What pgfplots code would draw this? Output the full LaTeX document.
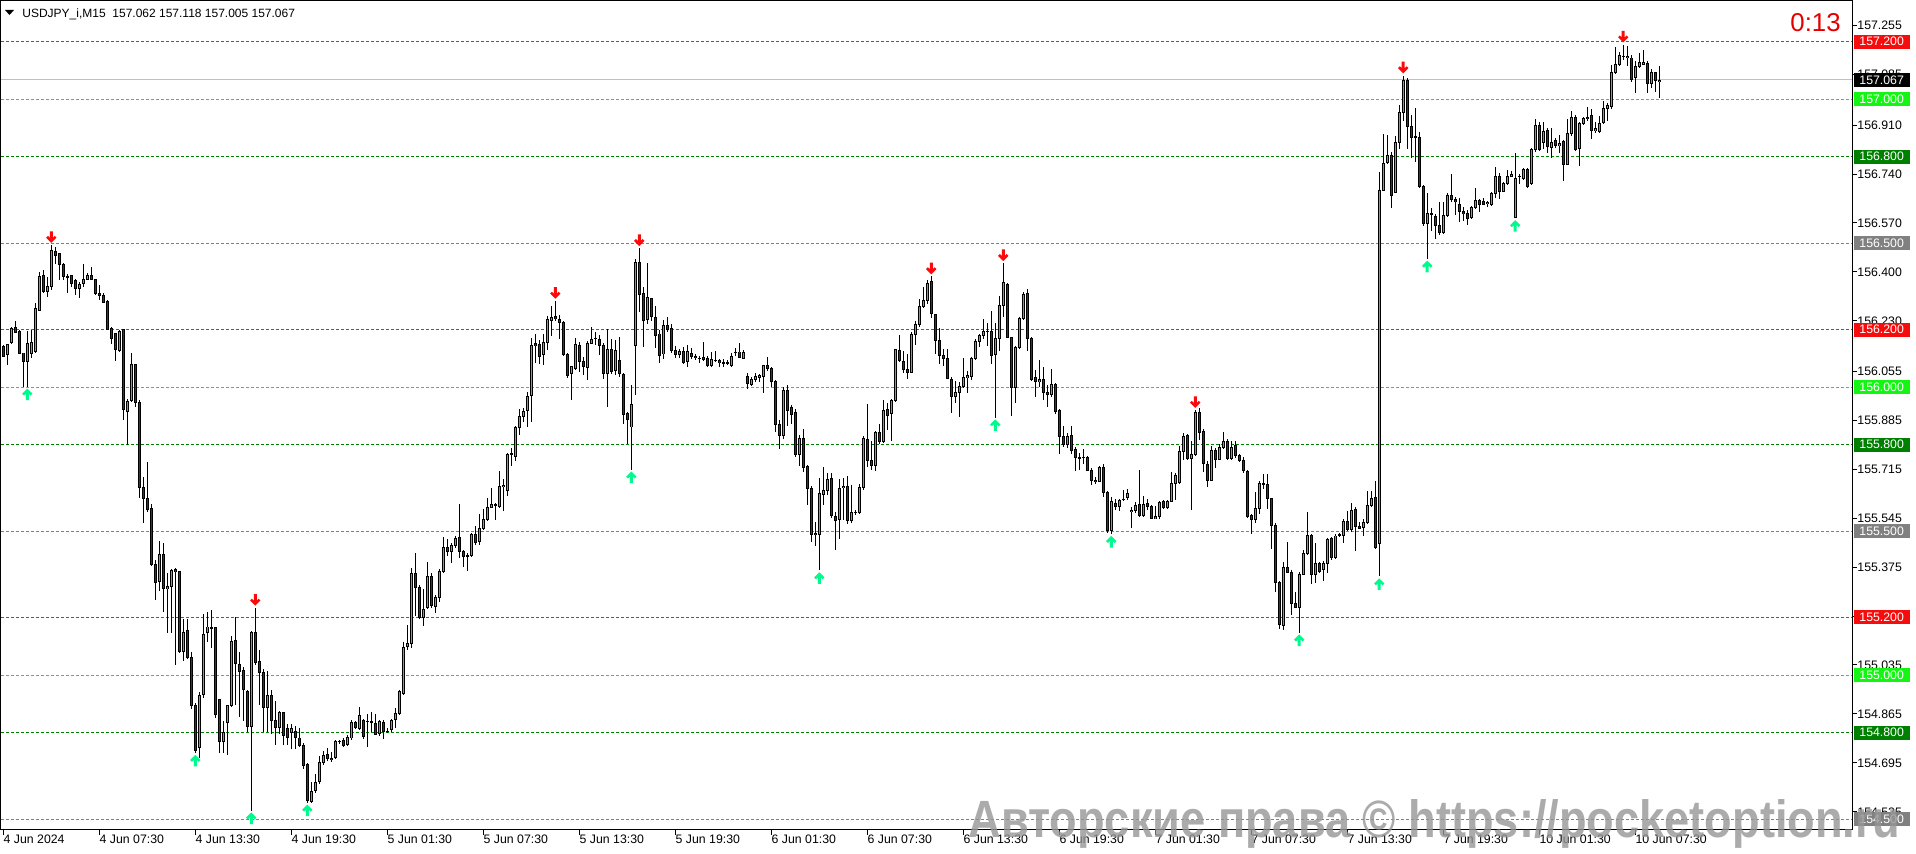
\documentclass[border=0pt]{standalone}
\usepackage{pgfplots}
\pgfplotsset{compat=1.18}
\usepackage{pgfplotstable}
\usepackage{fontspec}
\usepackage{graphicx}
\setmainfont{Liberation Sans}
\newfontfamily\wmfont{Liberation Sans}
\definecolor{bullc}{RGB}{96,180,112}
\definecolor{bearc}{RGB}{128,24,24}
\definecolor{lnred}{RGB}{200,45,45}
\definecolor{bxred}{RGB}{245,12,12}
\definecolor{lnlime}{RGB}{50,210,50}
\definecolor{bxlime}{RGB}{20,245,20}
\definecolor{lndkg}{RGB}{0,128,0}
\definecolor{lngray}{RGB}{128,128,128}
\definecolor{arrred}{RGB}{250,10,10}
\definecolor{arrgrn}{RGB}{0,250,140}
\definecolor{curln}{RGB}{192,192,192}
\definecolor{wmfill}{RGB}{150,150,150}
\newcommand\lbl{\fontsize{6.15}{7}\selectfont}

\pgfdeclareplotmark{void}{}
\pgfdeclareplotmark{dnarrow}{%
 \pgfpathmoveto{\pgfqpoint{0pt}{1pt}}%
 \pgfpathlineto{\pgfqpoint{2.6pt}{3.6pt}}%
 \pgfpathlineto{\pgfqpoint{1.7pt}{4.5pt}}%
 \pgfpathlineto{\pgfqpoint{0.75pt}{3.55pt}}%
 \pgfpathlineto{\pgfqpoint{0.75pt}{6.8pt}}%
 \pgfpathlineto{\pgfqpoint{-0.75pt}{6.8pt}}%
 \pgfpathlineto{\pgfqpoint{-0.75pt}{3.55pt}}%
 \pgfpathlineto{\pgfqpoint{-1.7pt}{4.5pt}}%
 \pgfpathlineto{\pgfqpoint{-2.6pt}{3.6pt}}%
 \pgfpathclose
 \pgfusepathqfill}
\pgfdeclareplotmark{uparrow}{%
 \pgfpathmoveto{\pgfqpoint{0pt}{-1pt}}%
 \pgfpathlineto{\pgfqpoint{2.6pt}{-3.6pt}}%
 \pgfpathlineto{\pgfqpoint{1.7pt}{-4.5pt}}%
 \pgfpathlineto{\pgfqpoint{0.75pt}{-3.55pt}}%
 \pgfpathlineto{\pgfqpoint{0.75pt}{-6.8pt}}%
 \pgfpathlineto{\pgfqpoint{-0.75pt}{-6.8pt}}%
 \pgfpathlineto{\pgfqpoint{-0.75pt}{-3.55pt}}%
 \pgfpathlineto{\pgfqpoint{-1.7pt}{-4.5pt}}%
 \pgfpathlineto{\pgfqpoint{-2.6pt}{-3.6pt}}%
 \pgfpathclose
 \pgfusepathqfill}

\pgfplotstableread{
i o h l c
0 156.141 156.147 156.104 156.106
1 156.112 156.152 156.077 156.147
2 156.156 156.210 156.152 156.204
3 156.208 156.231 156.187 156.191
4 156.195 156.199 156.115 156.118
5 156.118 156.118 156.002 156.089
6 156.089 156.195 156.002 156.152
7 156.118 156.199 156.100 156.156
8 156.123 156.291 156.118 156.274
9 156.268 156.401 156.266 156.386
10 156.390 156.407 156.326 156.332
11 156.332 156.384 156.314 156.351
12 156.351 156.494 156.340 156.474
13 156.474 156.488 156.430 156.459
14 156.463 156.467 156.372 156.428
15 156.428 156.433 156.372 156.386
16 156.384 156.395 156.326 156.386
17 156.387 156.390 156.349 156.361
18 156.372 156.378 156.320 156.343
19 156.343 156.367 156.309 156.358
20 156.361 156.428 156.349 156.375
21 156.375 156.396 156.372 156.390
22 156.390 156.419 156.372 156.375
23 156.375 156.378 156.320 156.324
24 156.326 156.355 156.303 156.320
25 156.320 156.326 156.291 156.294
26 156.297 156.301 156.199 156.201
27 156.204 156.210 156.152 156.170
28 156.185 156.187 156.091 156.129
29 156.129 156.199 156.123 156.195
30 156.199 156.204 155.886 155.923
31 155.918 155.958 155.801 155.952
32 155.952 156.120 155.948 156.078
33 156.078 156.080 155.932 155.948
34 155.948 155.958 155.616 155.653
35 155.653 155.690 155.531 155.613
36 155.613 155.739 155.566 155.576
37 155.580 155.593 155.380 155.387
38 155.385 155.400 155.261 155.323
39 155.327 155.467 155.294 155.420
40 155.420 155.460 155.221 155.301
41 155.301 155.354 155.148 155.308
42 155.308 155.371 155.148 155.363
43 155.366 155.374 155.035 155.358
44 155.358 155.363 155.075 155.082
45 155.082 155.194 155.051 155.148
46 155.155 155.194 155.055 155.062
47 155.062 155.082 154.883 154.896
48 154.896 154.903 154.730 154.739
49 154.750 154.943 154.712 154.929
50 154.933 155.214 154.922 155.141
51 155.148 155.221 155.115 155.168
52 155.165 155.228 155.095 155.165
53 155.168 155.168 154.853 154.863
54 154.916 154.919 154.730 154.770
55 154.770 154.843 154.730 154.803
56 154.836 154.896 154.723 154.893
57 154.896 155.137 154.889 155.119
58 155.122 155.201 154.896 155.042
59 155.039 155.082 154.856 155.015
60 155.015 155.029 154.843 154.949
61 154.943 154.949 154.803 154.823
62 154.823 155.155 154.530 155.148
63 155.148 155.234 155.035 155.045
64 155.049 155.088 154.896 155.009
65 155.009 155.022 154.803 154.889
66 154.889 155.015 154.803 154.929
67 154.929 154.949 154.796 154.843
68 154.843 154.912 154.757 154.819
69 154.819 154.876 154.796 154.872
70 154.869 154.872 154.757 154.790
71 154.816 154.829 154.757 154.783
72 154.800 154.832 154.743 154.816
73 154.803 154.823 154.743 154.783
74 154.783 154.816 154.750 154.756
75 154.756 154.763 154.673 154.686
76 154.690 154.694 154.557 154.564
77 154.564 154.630 154.557 154.597
78 154.601 154.657 154.590 154.630
79 154.630 154.720 154.624 154.697
80 154.697 154.736 154.690 154.723
81 154.723 154.747 154.703 154.710
82 154.712 154.734 154.697 154.707
83 154.716 154.776 154.710 154.770
84 154.770 154.776 154.763 154.770
85 154.772 154.783 154.752 154.756
86 154.759 154.792 154.756 154.783
87 154.783 154.846 154.776 154.836
88 154.836 154.840 154.813 154.819
89 154.816 154.889 154.810 154.859
90 154.843 154.849 154.779 154.787
91 154.840 154.867 154.752 154.840
92 154.839 154.872 154.803 154.836
93 154.832 154.866 154.792 154.796
94 154.796 154.843 154.790 154.839
95 154.836 154.845 154.779 154.803
96 154.806 154.816 154.800 154.806
97 154.810 154.849 154.803 154.843
98 154.846 154.886 154.816 154.867
99 154.867 154.949 154.863 154.943
100 154.938 155.115 154.933 155.098
101 155.098 155.174 155.088 155.108
102 155.111 155.374 155.095 155.354
103 155.354 155.427 155.208 155.305
104 155.305 155.314 155.194 155.201
105 155.201 155.300 155.172 155.227
106 155.235 155.394 155.231 155.344
107 155.344 155.357 155.235 155.240
108 155.240 155.278 155.214 155.271
109 155.271 155.370 155.254 155.360
110 155.360 155.479 155.357 155.443
111 155.443 155.474 155.413 155.430
112 155.430 155.460 155.390 155.452
113 155.452 155.483 155.443 155.476
114 155.479 155.593 155.407 155.430
115 155.430 155.436 155.377 155.413
116 155.417 155.426 155.364 155.414
117 155.417 155.496 155.410 155.489
118 155.489 155.516 155.452 155.463
119 155.463 155.558 155.450 155.509
120 155.509 155.576 155.505 155.540
121 155.540 155.615 155.536 155.582
122 155.582 155.651 155.580 155.593
123 155.593 155.598 155.540 155.590
124 155.585 155.708 155.580 155.655
125 155.655 155.681 155.572 155.659
126 155.642 155.771 155.622 155.768
127 155.768 155.787 155.725 155.768
128 155.761 155.867 155.744 155.860
129 155.860 155.924 155.834 155.897
130 155.900 155.929 155.880 155.916
131 155.920 155.986 155.863 155.969
132 155.973 156.172 155.880 156.145
133 156.152 156.185 156.085 156.145
134 156.149 156.165 156.079 156.109
135 156.115 156.185 156.079 156.154
136 156.154 156.247 156.128 156.234
137 156.234 156.280 156.178 156.244
138 156.244 156.300 156.231 156.238
139 156.234 156.251 156.168 156.225
140 156.225 156.231 156.109 156.115
141 156.115 156.119 156.033 156.043
142 156.046 156.075 155.956 156.070
143 156.066 156.172 156.062 156.148
144 156.145 156.158 156.052 156.092
145 156.092 156.105 156.043 156.072
146 156.070 156.162 156.026 156.154
147 156.154 156.211 156.152 156.168
148 156.172 156.191 156.145 156.172
149 156.168 156.181 156.112 156.145
150 156.145 156.154 156.030 156.048
151 156.048 156.202 155.933 156.132
152 156.132 156.168 156.048 156.056
153 156.059 156.165 156.043 156.128
154 156.092 156.176 156.035 156.048
155 156.046 156.048 155.871 155.907
156 155.907 155.913 155.805 155.889
157 155.863 156.009 155.714 155.940
158 156.145 156.446 155.973 156.433
159 156.433 156.483 156.264 156.321
160 156.324 156.348 156.141 156.231
161 156.238 156.433 156.218 156.313
162 156.308 156.311 156.231 156.244
163 156.244 156.284 156.136 156.181
164 156.185 156.198 156.083 156.112
165 156.115 156.234 156.099 156.215
166 156.215 156.244 156.194 156.202
167 156.202 156.218 156.119 156.128
168 156.128 156.145 156.102 156.115
169 156.115 156.132 156.101 156.125
170 156.125 156.141 156.079 156.088
171 156.088 156.149 156.070 156.123
172 156.119 156.136 156.099 156.109
173 156.109 156.115 156.096 156.104
174 156.101 156.109 156.083 156.101
175 156.104 156.158 156.092 156.099
176 156.101 156.109 156.070 156.075
177 156.075 156.123 156.070 156.096
178 156.095 156.128 156.088 156.095
179 156.092 156.099 156.070 156.085
180 156.085 156.099 156.070 156.085
181 156.085 156.096 156.079 156.085
182 156.075 156.119 156.072 156.109
183 156.123 156.136 156.109 156.123
184 156.123 156.154 156.101 156.105
185 156.101 156.128 156.099 156.119
186 156.038 156.048 155.993 156.012
187 156.009 156.035 156.006 156.026
188 156.026 156.048 156.019 156.039
189 156.035 156.046 156.019 156.042
190 156.039 156.079 155.980 156.075
191 156.075 156.105 156.059 156.066
192 156.066 156.072 156.003 156.019
193 156.019 156.026 155.844 155.871
194 155.871 155.887 155.787 155.834
195 155.834 155.999 155.821 155.990
196 155.990 156.009 155.867 155.920
197 155.929 155.937 155.874 155.907
198 155.913 155.924 155.757 155.768
199 155.768 155.834 155.728 155.823
200 155.823 155.854 155.704 155.721
201 155.725 155.731 155.593 155.648
202 155.648 155.655 155.463 155.489
203 155.492 155.532 155.447 155.487
204 155.489 155.685 155.364 155.629
205 155.629 155.721 155.589 155.642
206 155.642 155.701 155.625 155.681
207 155.681 155.701 155.545 155.553
208 155.553 155.566 155.436 155.540
209 155.540 155.681 155.474 155.648
210 155.651 155.685 155.540 155.655
211 155.655 155.691 155.527 155.536
212 155.536 155.663 155.530 155.565
213 155.565 155.576 155.559 155.565
214 155.565 155.663 155.559 155.652
215 155.652 155.832 155.643 155.820
216 155.820 155.944 155.722 155.745
217 155.745 155.814 155.712 155.727
218 155.727 155.849 155.710 155.843
219 155.843 155.872 155.803 155.812
220 155.812 155.956 155.808 155.921
221 155.924 155.947 155.851 155.904
222 155.907 155.959 155.812 155.953
223 155.953 156.133 155.951 156.129
224 156.129 156.179 156.086 156.092
225 156.092 156.127 156.048 156.063
226 156.063 156.115 156.028 156.052
227 156.052 156.191 156.048 156.185
228 156.185 156.231 156.148 156.217
229 156.217 156.307 156.210 156.280
230 156.280 156.347 156.275 156.303
231 156.303 156.372 156.289 156.361
232 156.365 156.385 156.241 156.254
233 156.252 156.254 156.115 156.162
234 156.162 156.206 156.083 156.110
235 156.110 156.133 156.075 156.101
236 156.101 156.133 156.029 156.032
237 156.028 156.034 155.909 155.970
238 155.970 156.023 155.947 155.982
239 155.982 156.017 155.895 156.005
240 156.005 156.104 155.999 156.034
241 156.034 156.057 155.982 156.040
242 156.036 156.106 156.025 156.101
243 156.101 156.167 156.094 156.159
244 156.159 156.187 156.141 156.179
245 156.179 156.237 156.167 156.194
246 156.194 156.222 156.144 156.194
247 156.194 156.264 156.081 156.110
248 156.115 156.222 155.895 156.171
249 156.171 156.315 156.127 156.283
250 156.283 156.431 156.243 156.364
251 156.356 156.361 156.171 156.173
252 156.173 156.176 155.901 155.999
253 155.999 156.144 155.944 156.139
254 156.139 156.245 156.133 156.241
255 156.241 156.333 156.234 156.321
256 156.324 156.341 156.125 156.171
257 156.171 156.176 156.023 156.028
258 156.032 156.060 155.965 156.020
259 156.020 156.092 155.999 156.028
260 156.028 156.069 155.955 155.982
261 155.982 156.009 155.932 155.976
262 155.976 156.063 155.965 156.009
263 156.009 156.017 155.909 155.916
264 155.919 155.924 155.768 155.828
265 155.828 155.866 155.793 155.802
266 155.802 155.843 155.789 155.831
267 155.831 155.866 155.770 155.782
268 155.782 155.791 155.710 155.754
269 155.756 155.773 155.712 155.754
270 155.756 155.785 155.735 155.756
271 155.756 155.762 155.708 155.710
272 155.710 155.719 155.661 155.677
273 155.677 155.687 155.663 155.673
274 155.673 155.727 155.669 155.721
275 155.721 155.735 155.619 155.634
276 155.634 155.640 155.495 155.503
277 155.503 155.619 155.490 155.605
278 155.596 155.611 155.573 155.585
279 155.585 155.611 155.571 155.606
280 155.611 155.643 155.606 155.611
281 155.615 155.646 155.611 155.631
282 155.568 155.585 155.510 155.573
283 155.571 155.600 155.565 155.588
284 155.592 155.712 155.550 155.554
285 155.554 155.623 155.550 155.594
286 155.594 155.611 155.573 155.585
287 155.585 155.592 155.542 155.545
288 155.545 155.588 155.542 155.550
289 155.550 155.606 155.545 155.600
290 155.603 155.608 155.577 155.582
291 155.582 155.608 155.577 155.603
292 155.603 155.704 155.600 155.666
293 155.666 155.704 155.608 155.693
294 155.669 155.797 155.663 155.777
295 155.779 155.843 155.750 155.831
296 155.831 155.839 155.747 155.754
297 155.754 155.814 155.573 155.768
298 155.768 155.921 155.762 155.913
299 155.913 155.928 155.816 155.843
300 155.846 155.855 155.704 155.735
301 155.733 155.744 155.654 155.677
302 155.677 155.797 155.675 155.782
303 155.782 155.791 155.719 155.750
304 155.750 155.805 155.747 155.791
305 155.791 155.846 155.785 155.812
306 155.812 155.820 155.747 155.754
307 155.754 155.816 155.747 155.793
308 155.797 155.814 155.754 155.762
309 155.762 155.768 155.742 155.747
310 155.747 155.758 155.704 155.710
311 155.707 155.712 155.548 155.553
312 155.553 155.561 155.490 155.542
313 155.542 155.638 155.530 155.580
314 155.580 155.673 155.561 155.666
315 155.663 155.699 155.646 155.666
316 155.662 155.699 155.579 155.613
317 155.613 155.617 155.440 155.520
318 155.520 155.530 155.288 155.321
319 155.321 155.328 155.160 155.175
320 155.175 155.394 155.158 155.374
321 155.374 155.463 155.354 155.357
322 155.357 155.365 155.208 155.248
323 155.248 155.288 155.232 155.234
324 155.234 155.357 155.148 155.351
325 155.351 155.437 155.347 155.423
326 155.423 155.569 155.420 155.484
327 155.484 155.490 155.317 155.351
328 155.351 155.460 155.321 155.387
329 155.387 155.394 155.354 155.361
330 155.365 155.397 155.328 155.387
331 155.387 155.476 155.354 155.471
332 155.474 155.480 155.401 155.410
333 155.410 155.490 155.405 155.484
334 155.484 155.493 155.480 155.487
335 155.484 155.543 155.461 155.533
336 155.533 155.569 155.500 155.507
337 155.507 155.599 155.500 155.573
338 155.573 155.583 155.431 155.514
339 155.516 155.533 155.507 155.511
340 155.514 155.543 155.484 155.533
341 155.533 155.639 155.527 155.590
342 155.590 155.639 155.583 155.613
343 155.617 155.673 155.440 155.444
344 155.460 156.748 155.343 156.685
345 156.685 156.878 156.685 156.778
346 156.782 156.878 156.775 156.804
347 156.804 156.817 156.622 156.666
348 156.679 156.874 156.675 156.852
349 156.852 156.981 156.826 156.954
350 156.954 157.083 156.924 157.067
351 157.067 157.075 156.826 156.905
352 156.905 156.945 156.795 156.868
353 156.871 156.971 156.782 156.868
354 156.868 156.888 156.693 156.698
355 156.698 156.702 156.560 156.569
356 156.569 156.675 156.446 156.605
357 156.605 156.622 156.543 156.602
358 156.592 156.603 156.516 156.563
359 156.563 156.645 156.529 156.539
360 156.539 156.642 156.533 156.596
361 156.596 156.675 156.592 156.666
362 156.666 156.742 156.645 156.653
363 156.653 156.662 156.600 156.645
364 156.636 156.658 156.573 156.609
365 156.609 156.626 156.578 156.602
366 156.605 156.616 156.565 156.586
367 156.589 156.629 156.586 156.622
368 156.626 156.692 156.618 156.649
369 156.649 156.655 156.609 156.636
370 156.645 156.658 156.632 156.636
371 156.636 156.649 156.626 156.640
372 156.635 156.679 156.632 156.671
373 156.671 156.765 156.658 156.733
374 156.733 156.746 156.656 156.679
375 156.682 156.715 156.679 156.709
376 156.709 156.755 156.702 156.733
377 156.733 156.751 156.729 156.738
378 156.592 156.815 156.587 156.725
379 156.733 156.742 156.706 156.733
380 156.725 156.762 156.719 156.755
381 156.755 156.762 156.693 156.698
382 156.709 156.831 156.702 156.826
383 156.826 156.932 156.818 156.908
384 156.908 156.921 156.818 156.826
385 156.848 156.921 156.828 156.888
386 156.892 156.901 156.812 156.835
387 156.835 156.901 156.795 156.852
388 156.855 156.865 156.831 156.839
389 156.839 156.875 156.815 156.848
390 156.852 156.857 156.715 156.775
391 156.775 156.932 156.772 156.881
392 156.881 156.958 156.871 156.937
393 156.937 156.945 156.822 156.826
394 156.828 156.921 156.768 156.914
395 156.914 156.937 156.910 156.932
396 156.937 156.974 156.924 156.932
397 156.945 156.968 156.861 156.892
398 156.892 156.921 156.884 156.897
399 156.888 156.941 156.884 156.918
400 156.918 156.994 156.914 156.968
401 156.968 156.987 156.924 156.977
402 156.977 157.118 156.968 157.094
403 157.094 157.180 157.087 157.120
404 157.120 157.167 157.118 157.150
405 157.150 157.190 157.136 157.150
406 157.144 157.184 157.114 157.150
407 157.144 157.153 157.061 157.070
408 157.074 157.131 157.021 157.114
409 157.114 157.160 157.110 157.127
410 157.123 157.171 157.118 157.127
411 157.127 157.134 157.021 157.057
412 157.054 157.104 157.041 157.094
413 157.094 157.096 157.027 157.067
414 157.062 157.118 157.005 157.067
}\candles

\begin{document}
\begin{tikzpicture}[x=0.5pt,y=0.5pt]
\useasboundingbox (0,0) rectangle (1916,854);
\fill[white] (0,0) rectangle (1916,854);
\begin{axis}[
  at={(0.5pt,12pt)}, anchor=south west,
  scale only axis, width=925.5pt, height=414.5pt,
  xmin=-0.575, xmax=462.2, ymin=154.462, ymax=157.341,
  axis line style={line width=0.5pt, black},
  xtick={0,24,...,408},
  xticklabels={4 Jun 2024,4 Jun 07:30,4 Jun 13:30,4 Jun 19:30,5 Jun 01:30,5 Jun 07:30,5 Jun 13:30,5 Jun 19:30,6 Jun 01:30,6 Jun 07:30,6 Jun 13:30,6 Jun 19:30,7 Jun 01:30,7 Jun 07:30,7 Jun 13:30,7 Jun 19:30,10 Jun 01:30,10 Jun 07:30},
  ytick={154.525,154.695,154.865,155.035,155.205,155.375,155.545,155.715,155.885,156.055,156.230,156.400,156.570,156.740,156.910,157.085,157.255},
  yticklabels={154.525,154.695,154.865,155.035,155.205,155.375,155.545,155.715,155.885,156.055,156.230,156.400,156.570,156.740,156.910,157.085,157.255},
  xtick pos=left, ytick pos=right, yticklabel pos=right,
  tick align=outside, major tick length=2.5pt,
  tick style={black, line width=0.5pt},
  xticklabel style={anchor=north west, inner sep=0pt, font=\lbl},
  yticklabel style={anchor=west, inner sep=0pt, font=\lbl},
  scaled y ticks=false,
  clip=false,
  candle/.style={only marks, mark=void, error bars/.cd, y dir=both, y explicit, error mark=none},
]
% level lines
\addplot[lnred, line width=0.5pt, dash pattern=on 1.5pt off 1pt] coordinates {(-0.575,157.2) (462.2,157.2)};
\addplot[lnlime, line width=0.5pt, dash pattern=on 1.5pt off 1pt] coordinates {(-0.575,157.0) (462.2,157.0)};
\addplot[lndkg, line width=0.5pt, dash pattern=on 1.5pt off 1pt] coordinates {(-0.575,156.8) (462.2,156.8)};
\addplot[lngray, line width=0.5pt, dash pattern=on 1.5pt off 1pt] coordinates {(-0.575,156.5) (462.2,156.5)};
\addplot[lnred, line width=0.5pt, dash pattern=on 1.5pt off 1pt] coordinates {(-0.575,156.2) (462.2,156.2)};
\addplot[lnlime, line width=0.5pt, dash pattern=on 1.5pt off 1pt] coordinates {(-0.575,156.0) (462.2,156.0)};
\addplot[lndkg, line width=0.5pt, dash pattern=on 1.5pt off 1pt] coordinates {(-0.575,155.8) (462.2,155.8)};
\addplot[lngray, line width=0.5pt, dash pattern=on 1.5pt off 1pt] coordinates {(-0.575,155.5) (462.2,155.5)};
\addplot[lnred, line width=0.5pt, dash pattern=on 1.5pt off 1pt] coordinates {(-0.575,155.2) (462.2,155.2)};
\addplot[lnlime, line width=0.5pt, dash pattern=on 1.5pt off 1pt] coordinates {(-0.575,155.0) (462.2,155.0)};
\addplot[lndkg, line width=0.5pt, dash pattern=on 1.5pt off 1pt] coordinates {(-0.575,154.8) (462.2,154.8)};
\addplot[lngray, line width=0.5pt, dash pattern=on 1.5pt off 1pt] coordinates {(-0.575,154.5) (462.2,154.5)};
\addplot[curln, line width=0.5pt] coordinates {(-0.575,157.067) (462.2,157.067)};
% wicks
\addplot[black, candle, error bar style={draw=black, line width=0.5pt}]
  table[x=i, y expr={(\thisrow{h}+\thisrow{l})/2}, y error expr={(\thisrow{h}-\thisrow{l})/2}] {\candles};
% body outlines
\addplot[black, candle, error bar style={draw=black, line width=1.6pt}]
  table[x=i, y expr={(\thisrow{o}+\thisrow{c})/2}, y error expr={abs(\thisrow{c}-\thisrow{o})/2+0.0017}] {\candles};
% bull fills
\addplot[bullc, restrict expr to domain={\thisrow{c}-\thisrow{o}}{0.004:10}, candle,
  error bar style={draw=bullc, line width=0.65pt}]
  table[x=i, y expr={(\thisrow{o}+\thisrow{c})/2}, y error expr={abs(\thisrow{c}-\thisrow{o})/2-0.0017}] {\candles};
% bear fills
\addplot[bearc, restrict expr to domain={\thisrow{c}-\thisrow{o}}{-10:-0.004}, candle,
  error bar style={draw=bearc, line width=0.65pt}]
  table[x=i, y expr={(\thisrow{o}+\thisrow{c})/2}, y error expr={abs(\thisrow{c}-\thisrow{o})/2-0.0017}] {\candles};
% swing markers
\addplot[only marks, mark=dnarrow, color=arrred] coordinates {
 (12,156.494) (63,155.234) (138,156.300) (159,156.483) (232,156.385) (250,156.431) (298,155.921) (350,157.083) (405,157.190)};
\addplot[only marks, mark=uparrow, color=arrgrn] coordinates {
 (6,156.002) (48,154.730) (62,154.530) (76,154.557) (157,155.714) (204,155.364) (248,155.895) (277,155.490) (324,155.148) (344,155.343) (356,156.446) (378,156.587)};
% anchor points for price tags
\coordinate (P1) at (axis cs:462.2,157.2);
\coordinate (P2) at (axis cs:462.2,157.0);
\coordinate (P3) at (axis cs:462.2,156.8);
\coordinate (P4) at (axis cs:462.2,156.5);
\coordinate (P5) at (axis cs:462.2,156.2);
\coordinate (P6) at (axis cs:462.2,156.0);
\coordinate (P7) at (axis cs:462.2,155.8);
\coordinate (P8) at (axis cs:462.2,155.5);
\coordinate (P9) at (axis cs:462.2,155.2);
\coordinate (P10) at (axis cs:462.2,155.0);
\coordinate (P11) at (axis cs:462.2,154.8);
\coordinate (P12) at (axis cs:462.2,154.5);
\coordinate (PC) at (axis cs:462.2,157.067);
\end{axis}
% price tags
\foreach \p/\c/\t in {P1/bxred/157.200,P2/bxlime/157.000,P3/lndkg/156.800,P4/lngray/156.500,P5/bxred/156.200,P6/bxlime/156.000,P7/lndkg/155.800,P8/lngray/155.500,P9/bxred/155.200,P10/bxlime/155.000,P11/lndkg/154.800,P12/lngray/154.500,PC/black/157.067}{
  \fill[\c] ([xshift=1pt,yshift=-3.5pt]\p) rectangle ([xshift=29pt,yshift=3.5pt]\p);
  \node[anchor=west, inner sep=0pt, text=white, font=\lbl] at ([xshift=3.5pt]\p) {\t};
}
% header
\fill[black] (5,844) -- (14,844) -- (9.5,839) -- cycle;
\node[anchor=base west, inner sep=0pt, font=\fontsize{6}{7}\selectfont] at (22,836.7) {USDJPY\_i,M15\ \ 157.062 157.118 157.005 157.067};
% countdown
\node[anchor=base east, inner sep=0pt, text=red!90!black, font=\fontsize{12.9}{15}\selectfont] at (1841,822.3) {0:13};
% watermark
\node[anchor=base west, inner sep=0pt, text=wmfill, opacity=0.8] at (968,16) {\resizebox{466pt}{19pt}{\wmfont\bfseries Авторские права © https://pocketoption.ru}};
\end{tikzpicture}
\end{document}
